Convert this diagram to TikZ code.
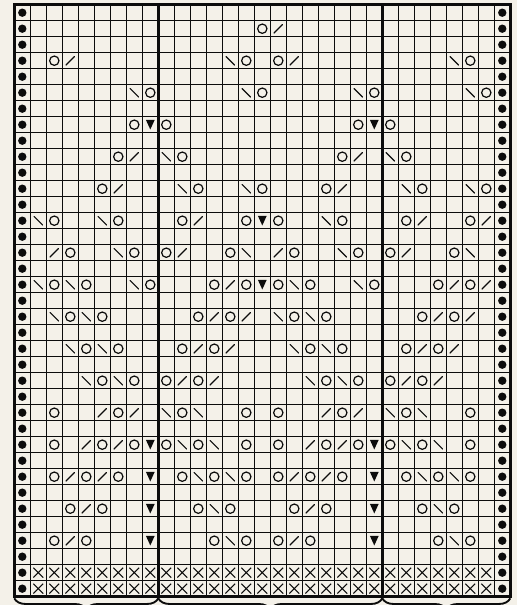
\documentclass[tikz,border=0pt]{standalone}
\usepackage{xcolor}
\usetikzlibrary{shapes.misc,decorations.pathreplacing}
\definecolor{paper}{RGB}{244,241,233}
\definecolor{ink}{RGB}{12,12,12}

\begin{document}
\begin{tikzpicture}[
  x=0.42cm, y=-0.42cm,
  yo/.style={circle, draw=ink, line width=0.9pt, inner sep=0pt, minimum size=0.245cm},
  kr/.style={inner sep=0pt, minimum size=0.24cm, path picture={
    \draw[ink, line width=0.9pt] (path picture bounding box.south west) -- (path picture bounding box.north east);}},
  kl/.style={inner sep=0pt, minimum size=0.24cm, path picture={
    \draw[ink, line width=0.9pt] (path picture bounding box.north west) -- (path picture bounding box.south east);}},
  dec/.style={inner sep=0pt, minimum width=0.23cm, minimum height=0.25cm, path picture={
    \fill[ink] (path picture bounding box.north west) -- (path picture bounding box.north east)
      -- (path picture bounding box.south) -- cycle;}},
  selvage/.style={circle, fill=ink, inner sep=0pt, minimum size=0.22cm},
  cast/.style={cross out, draw=ink, line width=0.8pt, inner sep=0pt, minimum size=0.23cm},
  brc/.style={decorate, decoration={brace, mirror, amplitude=0.3cm}, ink, line width=1.4pt}
]
  % paper and frame of the picture
  \path[use as bounding box, fill=paper] (-0.894,-0.294) rectangle (31.419,37.52);
  \clip (-0.894,-0.294) rectangle (31.419,37.52);

  % the grid
  \foreach \c in {1,...,30}
    \draw[ink, line width=0.75pt] (\c,0) -- (\c,37);
  \foreach \r in {1,...,36}
    \draw[ink, line width=0.75pt] (0,\r) -- (31,\r);
  \draw[ink, line width=2.2pt] (0,0) rectangle (31,37);
  \draw[ink, line width=2.2pt] (9,0) -- (9,37);
  \draw[ink, line width=2.2pt] (23,0) -- (23,37);

  % edge stitches
  \foreach \r in {1,...,37} {
    \node[selvage] (sl-\r) at (0.5,\r-0.5) {};
    \node[selvage] (sr-\r) at (30.5,\r-0.5) {};
  }

  % cast-on rows
  \foreach \r in {36,37}
    \foreach \c in {2,...,30}
      \node[cast] (x-\c-\r) at (\c-0.5,\r-0.5) {};

  % yarn overs
  \foreach \r/\cs in {2/{16}, 4/{3,15,17,29}, 6/{9,16,23,30}, 8/{8,10,22,24},
      10/{7,11,21,25}, 12/{6,12,16,20,26,30}, 14/{3,7,11,15,17,21,25,29},
      16/{4,8,10,14,18,22,24,28}, 18/{3,5,9,13,15,17,19,23,27,29},
      20/{4,6,12,14,18,20,26,28}, 22/{5,7,11,13,19,21,25,27},
      24/{6,8,10,12,20,22,24,26}, 26/{3,7,11,15,17,21,25,29},
      28/{3,6,8,10,12,15,17,20,22,24,26,29}, 30/{3,5,7,11,13,15,17,19,21,25,27,29},
      32/{4,6,12,14,18,20,26,28}, 34/{3,5,13,15,17,19,27,29}}
    \foreach \c in \cs
      \node[yo] (yo-\c-\r) at (\c-0.5,\r-0.5) {};

  % right-leaning decreases
  \foreach \r/\cs in {2/{17}, 4/{4,18}, 10/{8,22}, 12/{7,21}, 14/{12,26,30},
      16/{3,11,17,25}, 18/{14,28,30}, 20/{13,15,27,29}, 22/{12,14,26,28},
      24/{11,13,25,27}, 26/{6,8,20,22}, 28/{5,7,19,21}, 30/{4,6,18,20},
      32/{5,19}, 34/{4,18}}
    \foreach \c in \cs
      \node[kr] (kr-\c-\r) at (\c-0.5,\r-0.5) {};

  % left-leaning decreases
  \foreach \r/\cs in {4/{14,28}, 6/{8,15,22,29}, 10/{10,24}, 12/{11,15,25,29},
      14/{2,6,20}, 16/{7,15,21,29}, 18/{2,4,8,18,22}, 20/{3,5,17,19},
      22/{4,6,18,20}, 24/{5,7,19,21}, 26/{10,12,24,26}, 28/{11,13,25,27},
      30/{12,14,26,28}, 32/{13,27}, 34/{14,28}}
    \foreach \c in \cs
      \node[kl] (kl-\c-\r) at (\c-0.5,\r-0.5) {};

  % double decreases
  \foreach \r/\cs in {8/{9,23}, 14/{16}, 18/{16}, 28/{9,23}, 30/{9,23},
      32/{9,23}, 34/{9,23}}
    \foreach \c in \cs
      \node[dec] (dd-\c-\r) at (\c-0.5,\r-0.5) {};

  % repeats below the chart
  \draw[brc] (0,37.1) -- (9,37.1);
  \draw[brc] (9,37.1) -- (23,37.1);
  \draw[brc] (23,37.1) -- (31,37.1);
\end{tikzpicture}
\end{document}
